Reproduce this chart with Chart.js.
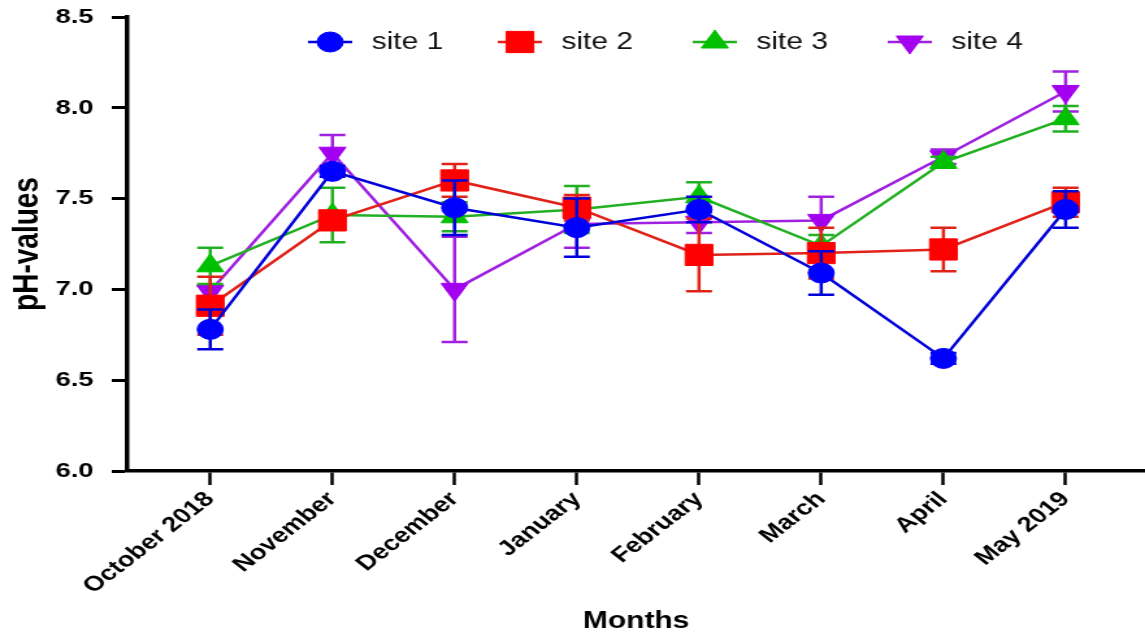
<!DOCTYPE html>
<html>
<head>
<meta charset="utf-8">
<script src="https://cdn.jsdelivr.net/npm/chart.js@4/dist/chart.umd.min.js"></script>
<style>
  html, body { margin: 0; padding: 0; background: #fff; overflow: hidden; }
  #wrap { width: 1145px; height: 635px; }
  /* the reference figure is stretched sideways, so draw narrow and scale */
  #chart { transform-origin: 0 0; transform: scale(1.2997, 1); }
</style>
</head>
<body>
<div id="wrap"><canvas id="chart" width="881" height="635"></canvas></div>
<script>
const months = ["October 2018", "November", "December", "January", "February", "March", "April", "May 2019"];
const yTicks = [6.0, 6.5, 7.0, 7.5, 8.0, 8.5];

const site1 = [6.78, 7.65, 7.45, 7.34, 7.44, 7.09, 6.62, 7.44];
const site1Err = [0.11, 0.03, 0.15, 0.16, 0.07, 0.12, 0.03, 0.10];
const site2 = [6.91, 7.38, 7.60, 7.45, 7.19, 7.20, 7.22, 7.48];
const site2Err = [0.16, 0.05, 0.09, 0.07, 0.20, 0.14, 0.12, 0.08];
const site3 = [7.13, 7.41, 7.40, 7.44, 7.51, 7.24, 7.70, 7.94];
const site3Err = [0.10, 0.15, 0.08, 0.13, 0.08, 0.06, 0.03, 0.07];
const site4 = [6.99, 7.75, 7.00, 7.36, 7.37, 7.38, 7.73, 8.09];
const site4Err = [0.03, 0.10, 0.29, 0.13, 0.06, 0.13, 0.04, 0.11];

function pts(vals) {
    return vals.map((v, i) => ({x: i, y: v}));
}

function series(label, vals, errs, line, fill, style, radius, rot) {
    return {
        label: label,
        data: pts(vals),
        errors: errs,
        borderColor: line,
        borderWidth: 2.5,
        pointStyle: style,
        pointRadius: radius,
        pointRotation: rot,
        pointBackgroundColor: fill,
        pointBorderColor: fill,
        pointBorderWidth: 1,
        tension: 0
    };
}

// error bars, drawn just before each dataset so its own points sit on top
const errorBars = {
    id: "errorBars",
    beforeDatasetDraw(chart, args) {
        const ds = chart.data.datasets[args.index];
        const ys = chart.scales.y;
        const ctx = chart.ctx;
        ctx.save();
        ctx.strokeStyle = ds.borderColor;
        ctx.lineWidth = 2.5;
        args.meta.data.forEach((pt, i) => {
            const v = ds.data[i].y, e = ds.errors[i];
            const top = ys.getPixelForValue(v + e);
            const bot = ys.getPixelForValue(v - e);
            ctx.beginPath();
            ctx.moveTo(pt.x, top); ctx.lineTo(pt.x, bot);
            ctx.moveTo(pt.x - 10, top); ctx.lineTo(pt.x + 10, top);
            ctx.moveTo(pt.x - 10, bot); ctx.lineTo(pt.x + 10, bot);
            ctx.stroke();
        });
        ctx.restore();
    }
};

// legend with a short line through each marker
const lineLegend = {
    id: "lineLegend",
    afterDraw(chart) {
        const ctx = chart.ctx;
        const xs = [254, 400, 550, 700];
        const y = 42;
        chart.data.datasets.forEach((ds, i) => {
            const x = xs[i];
            ctx.save();
            ctx.strokeStyle = ds.borderColor;
            ctx.lineWidth = 2.5;
            ctx.beginPath();
            ctx.moveTo(x - 17, y); ctx.lineTo(x + 17, y);
            ctx.stroke();
            ctx.fillStyle = ds.pointBackgroundColor;
            ctx.strokeStyle = ds.pointBorderColor;
            ctx.lineWidth = 1;
            Chart.helpers.drawPoint(ctx, {
                pointStyle: ds.pointStyle,
                radius: ds.pointRadius,
                rotation: ds.pointRotation,
                borderWidth: 1
            }, x, y);
            ctx.fillStyle = "#111";
            ctx.font = "23px 'Liberation Sans', Arial, sans-serif";
            ctx.textBaseline = "middle";
            ctx.fillText(ds.label, x + 32, y + 1);
            ctx.restore();
        });
    }
};

new Chart("chart", {
    type: "line",
    data: {
        datasets: [
            series("site 1", site1, site1Err, "#0000d8", "#0000ff", "circle", 10, 0),
            series("site 2", site2, site2Err, "#e02218", "#ff0000", "rect", 15, 0),
            series("site 3", site3, site3Err, "#22b022", "#00c000", "triangle", 12, 0),
            series("site 4", site4, site4Err, "#a020e0", "#a400f0", "triangle", 12, 180)
        ]
    },
    options: {
        responsive: false,
        animation: false,
        clip: false,
        layout: { autoPadding: false, padding: { top: 17, right: 0, bottom: 0, left: 0 } },
        plugins: {
            legend: { display: false },
            tooltip: { enabled: false }
        },
        scales: {
            x: {
                type: "linear",
                min: -0.678,
                max: 7.65,
                afterBuildTicks: (s) => { s.ticks = months.map((m, i) => ({value: i})); },
                afterFit: (s) => { s.height = 164; s.paddingLeft = 0; s.paddingRight = 0; },
                border: { display: true, color: "#000", width: 3.5 },
                grid: { drawOnChartArea: false, drawTicks: true, tickLength: 14, tickWidth: 2.5, tickColor: "#000" },
                ticks: {
                    callback: (v) => months[v],
                    minRotation: 45,
                    maxRotation: 45,
                    padding: 2,
                    color: "#000",
                    font: { family: "'Liberation Sans', Arial, sans-serif", size: 21, weight: "bold" }
                },
                title: {
                    display: true,
                    text: "Months",
                    color: "#000",
                    padding: { top: 0, bottom: 0 },
                    font: { family: "'Liberation Sans', Arial, sans-serif", size: 23, weight: "bold" }
                }
            },
            y: {
                min: 6,
                max: 8.5,
                afterBuildTicks: (s) => { s.ticks = yTicks.map((v) => ({value: v})); },
                afterFit: (s) => { s.width = 98; s.paddingTop = 0; s.paddingBottom = 0; },
                border: { display: true, color: "#000", width: 3.5 },
                grid: { drawOnChartArea: false, drawTicks: true, tickLength: 12, tickWidth: 3, tickColor: "#000" },
                ticks: {
                    callback: (v) => v.toFixed(1),
                    padding: 14,
                    color: "#000",
                    font: { family: "'Liberation Sans', Arial, sans-serif", size: 21, weight: "bold" }
                },
                title: {
                    display: true,
                    text: "pH-values",
                    color: "#000",
                    padding: { top: 4, bottom: 0 },
                    font: { family: "'Liberation Sans', Arial, sans-serif", size: 28, weight: "bold" }
                }
            }
        }
    },
    plugins: [errorBars, lineLegend]
});
</script>
</body>
</html>
